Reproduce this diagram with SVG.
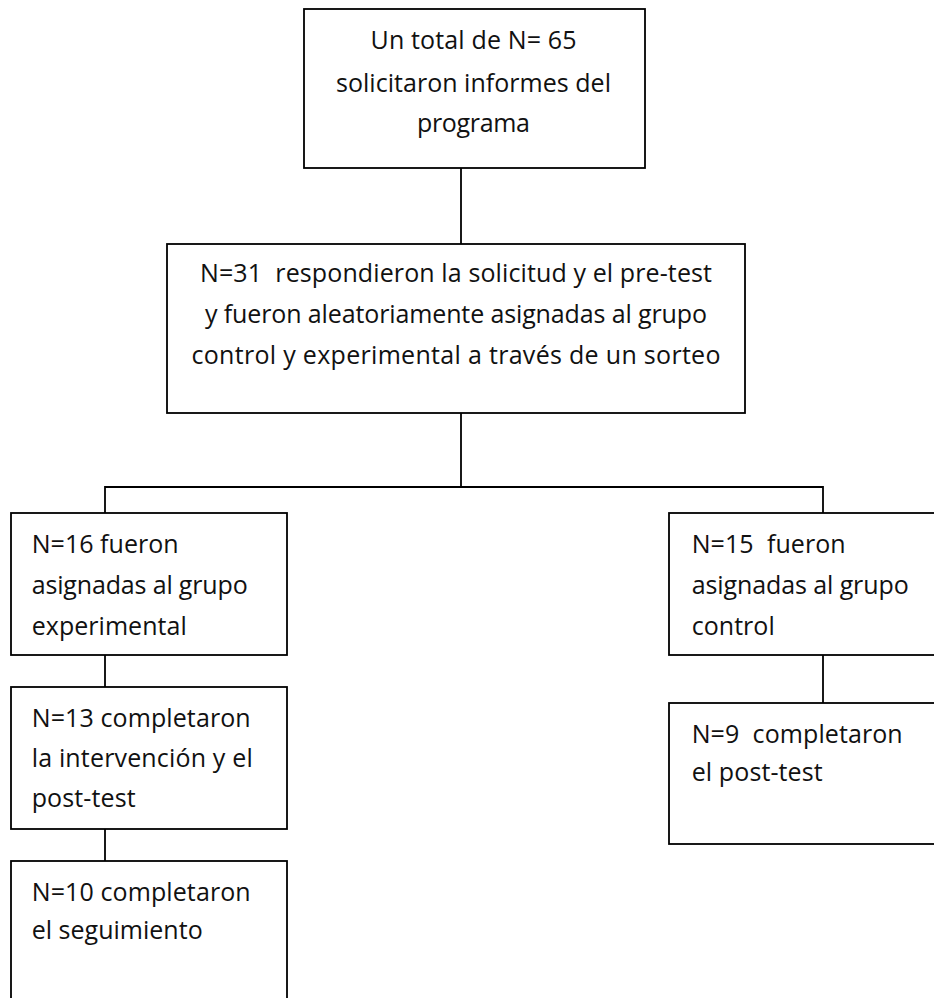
<svg xmlns="http://www.w3.org/2000/svg" width="934" height="998" viewBox="0 0 934 998">
<style>
.box{fill:#fff;stroke:#000;stroke-width:1.8}
.ln{fill:none;stroke:#000;stroke-width:1.8}
text{font-family:"Open Sans","Noto Sans","Liberation Sans",sans-serif;font-size:25px;fill:#111;white-space:pre}
.c{text-anchor:middle}
</style>
<rect width="934" height="998" fill="#fff"/>
<g id="connectors">
<line class="ln" x1="461" y1="168" x2="461" y2="244"/>
<line class="ln" x1="461" y1="413" x2="461" y2="487"/>
<polyline class="ln" points="105,513 105,487 823,487 823,513"/>
<line class="ln" x1="105" y1="655" x2="105" y2="687"/>
<line class="ln" x1="105" y1="829" x2="105" y2="861"/>
<line class="ln" x1="823" y1="655" x2="823" y2="703"/>
</g>
<g id="n1">
<rect class="box" x="304" y="9" width="341" height="159"/>
<text class="c" x="473.5" y="49" textLength="206" lengthAdjust="spacing">Un total de N= 65</text>
<text class="c" x="473.5" y="92" textLength="275" lengthAdjust="spacing">solicitaron informes del</text>
<text class="c" x="473.5" y="132" textLength="113" lengthAdjust="spacing">programa</text>
</g>
<g id="n2">
<rect class="box" x="167" y="244" width="578" height="169"/>
<text class="c" x="456" y="282" textLength="512" lengthAdjust="spacing" xml:space="preserve">N=31  respondieron la solicitud y el pre-test</text>
<text class="c" x="456" y="323" textLength="502" lengthAdjust="spacing">y fueron aleatoriamente asignadas al grupo</text>
<text class="c" x="456" y="364" textLength="529" lengthAdjust="spacing">control y experimental a través de un sorteo</text>
</g>
<g id="n3">
<rect class="box" x="11" y="513" width="276" height="142"/>
<text x="31.7" y="553" textLength="147" lengthAdjust="spacing">N=16 fueron</text>
<text x="31.7" y="594" textLength="216" lengthAdjust="spacing">asignadas al grupo</text>
<text x="31.7" y="635" textLength="155" lengthAdjust="spacing">experimental</text>
</g>
<g id="n4">
<rect class="box" x="669" y="513" width="280" height="142"/>
<text x="691.7" y="553" textLength="154" lengthAdjust="spacing" xml:space="preserve">N=15  fueron</text>
<text x="691.7" y="594" textLength="217" lengthAdjust="spacing">asignadas al grupo</text>
<text x="691.7" y="635" textLength="83" lengthAdjust="spacing">control</text>
</g>
<g id="n5">
<rect class="box" x="11" y="687" width="276" height="142"/>
<text x="31.7" y="727" textLength="219" lengthAdjust="spacing">N=13 completaron</text>
<text x="31.7" y="767" textLength="221" lengthAdjust="spacing">la intervención y el</text>
<text x="31.7" y="807" textLength="104" lengthAdjust="spacing">post-test</text>
</g>
<g id="n6">
<rect class="box" x="11" y="861" width="276" height="150"/>
<text x="31.7" y="901" textLength="219" lengthAdjust="spacing">N=10 completaron</text>
<text x="31.7" y="939" textLength="171" lengthAdjust="spacing">el seguimiento</text>
</g>
<g id="n7">
<rect class="box" x="669" y="703" width="280" height="141"/>
<text x="691.7" y="743" textLength="211" lengthAdjust="spacing" xml:space="preserve">N=9  completaron</text>
<text x="691.7" y="781" textLength="131" lengthAdjust="spacing">el post-test</text>
</g>
</svg>
